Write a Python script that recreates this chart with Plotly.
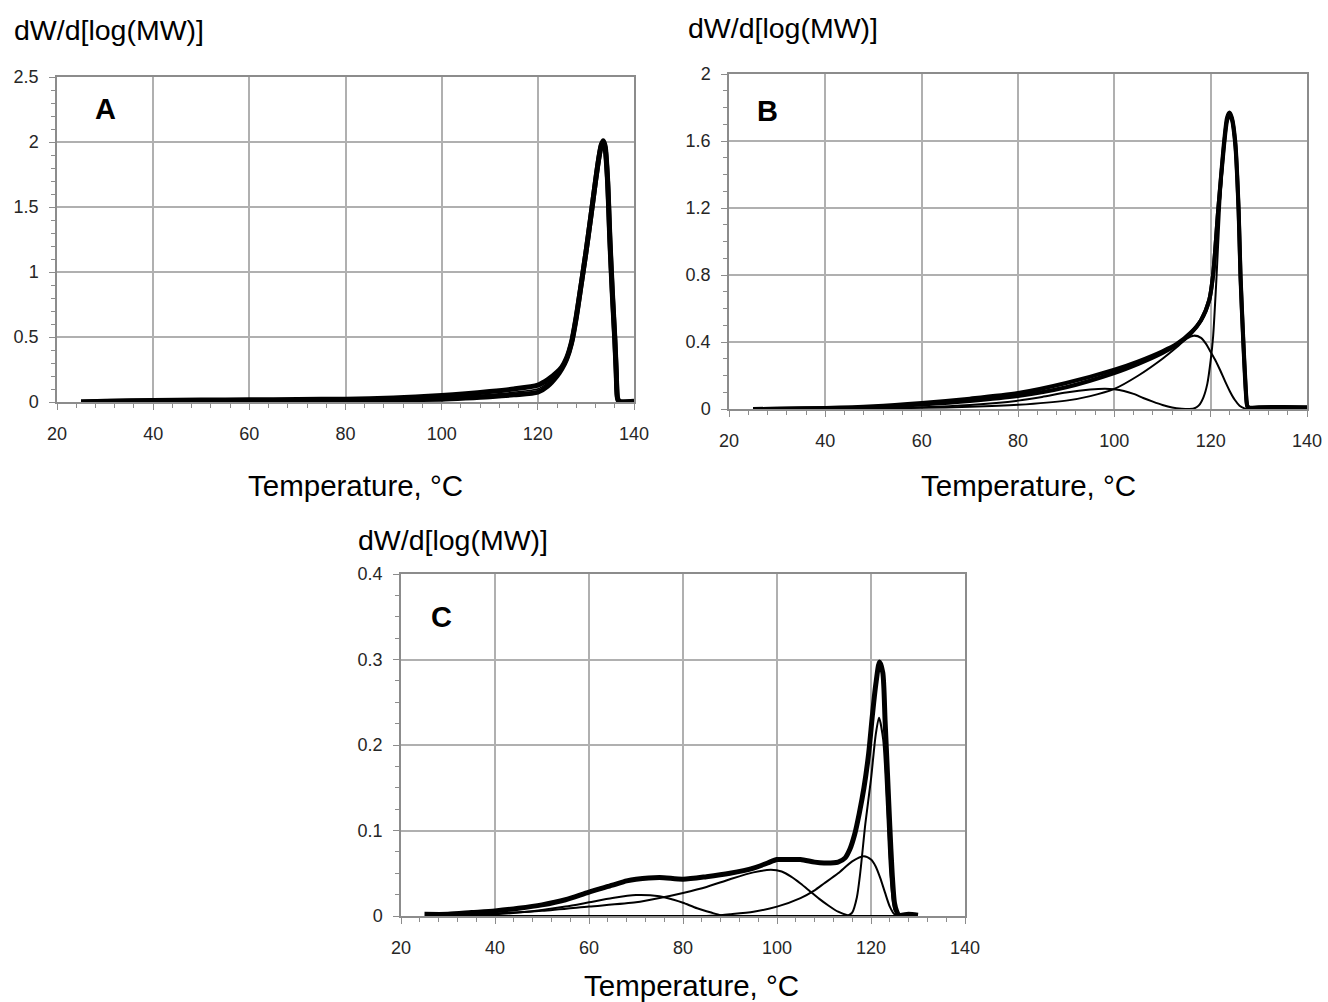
import plotly.graph_objects as go

# ---------------- Panel A data ----------------
A_T = [25, 30, 40, 50, 60, 70, 80, 90, 100, 105, 110, 115, 120, 122, 124, 125, 126, 127, 128,
       129, 130, 131, 132, 132.7, 133.2, 133.6, 134, 134.5, 135, 135.5, 136, 136.3, 136.6, 137, 140]
A_run1 = [0.0, 0.006, 0.012, 0.015, 0.017, 0.019, 0.022, 0.031, 0.05, 0.063, 0.08, 0.1, 0.13, 0.17,
          0.23, 0.27, 0.34, 0.46, 0.66, 0.9, 1.15, 1.42, 1.7, 1.88, 1.98, 2.01, 1.97, 1.72, 1.25,
          0.85, 0.5, 0.25, 0.03, 0.005, 0.005]
A_run2 = [0.0, 0.004, 0.008, 0.01, 0.011, 0.012, 0.013, 0.016, 0.022, 0.03, 0.04, 0.055, 0.075, 0.12,
          0.2, 0.255, 0.33, 0.45, 0.65, 0.9, 1.15, 1.42, 1.7, 1.88, 1.97, 2.0, 1.95, 1.7, 1.22,
          0.82, 0.48, 0.22, 0.02, 0.003, 0.003]
A_fit = [0.0, 0.005, 0.01, 0.012, 0.014, 0.015, 0.017, 0.022, 0.035, 0.045, 0.058, 0.075, 0.1, 0.145,
         0.215, 0.26, 0.335, 0.455, 0.655, 0.9, 1.15, 1.42, 1.7, 1.88, 1.975, 2.005, 1.96, 1.71, 1.23,
         0.83, 0.49, 0.23, 0.025, 0.004, 0.004]

# ---------------- Panel B data ----------------
B_T = [25, 30, 40, 50, 60, 70, 80, 90, 100, 105, 110, 113, 116, 118, 119.7, 120.5, 121.6, 122.8,
       123.4, 123.9, 124.4, 125.1, 125.8, 126.2, 126.8, 127.3, 127.6, 128, 130, 135, 140]
B_run1 = [0.0, 0.002, 0.006, 0.016, 0.036, 0.062, 0.095, 0.155, 0.235, 0.285, 0.345, 0.39, 0.46,
          0.53, 0.65, 0.8, 1.2, 1.6, 1.74, 1.77, 1.74, 1.6, 1.2, 0.8, 0.4, 0.12, 0.02, 0.008,
          0.01, 0.012, 0.01]
B_run2 = [0.0, 0.001, 0.004, 0.011, 0.027, 0.048, 0.078, 0.13, 0.215, 0.27, 0.335, 0.385, 0.455,
          0.53, 0.65, 0.8, 1.2, 1.58, 1.72, 1.76, 1.73, 1.58, 1.18, 0.78, 0.38, 0.1, 0.015, 0.005,
          0.008, 0.01, 0.008]
B_c1_T = [40, 50, 60, 70, 80, 85, 90, 95, 98, 100, 102, 104, 106, 108, 110, 112, 114, 116]
B_c1 = [0.0, 0.003, 0.01, 0.024, 0.05, 0.072, 0.098, 0.116, 0.121, 0.118, 0.108, 0.09, 0.066,
        0.044, 0.024, 0.009, 0.002, 0.0]
B_c2_T = [40, 50, 60, 70, 80, 90, 95, 100, 105, 110, 113, 115, 116.5, 118, 119, 120, 121, 122, 123,
          124, 125, 126, 127, 127.5]
B_c2 = [0.0, 0.003, 0.007, 0.013, 0.025, 0.05, 0.077, 0.12, 0.2, 0.3, 0.37, 0.42, 0.438, 0.425,
        0.39, 0.34, 0.29, 0.23, 0.165, 0.105, 0.055, 0.02, 0.004, 0.0]
B_c3_T = [115, 116.5, 117.5, 118.5, 119.3, 120, 120.5, 121.2, 121.9, 122.8, 123.4, 123.9, 124.4,
          125.1, 125.8, 126.2, 126.8, 127.3, 127.8, 128.5]
B_c3 = [0.0, 0.003, 0.02, 0.07, 0.15, 0.29, 0.43, 0.78, 1.18, 1.57, 1.72, 1.76, 1.72, 1.55, 1.18,
        0.78, 0.38, 0.12, 0.02, 0.0]

# ---------------- Panel C data ----------------
C_T = [25, 30, 35, 40, 45, 50, 55, 60, 65, 68, 70, 75, 80, 85, 90, 95, 98, 100, 102, 105, 108, 110,
       113, 114.5, 115.5, 116.5, 117.5, 118.5, 119.5, 120.3, 121, 121.8, 122.5, 123, 123.5, 124,
       124.5, 125, 125.5, 126, 128, 130]
C_exp = [0.002, 0.002, 0.004, 0.006, 0.009, 0.013, 0.019, 0.028, 0.036, 0.041, 0.043, 0.045, 0.043,
         0.046, 0.05, 0.056, 0.062, 0.066, 0.066, 0.066, 0.063, 0.062, 0.063, 0.068, 0.078, 0.095,
         0.12, 0.15, 0.19, 0.235, 0.27, 0.297, 0.285, 0.228, 0.167, 0.105, 0.05, 0.015, 0.005,
         0.001, 0.002, 0.001]
C_c1_T = [35, 40, 45, 50, 55, 60, 65, 70, 75, 78, 80, 83, 86, 88, 90]
C_c1 = [0.001, 0.002, 0.004, 0.007, 0.011, 0.016, 0.021, 0.0245, 0.023, 0.019, 0.0155, 0.009, 0.004,
        0.001, 0.0]
C_c2_T = [30, 40, 50, 60, 70, 75, 80, 85, 90, 95, 98.7, 101, 103, 105, 107, 109, 111, 113, 115, 116.5]
C_c2 = [0.001, 0.003, 0.006, 0.011, 0.016, 0.021, 0.027, 0.034, 0.043, 0.051, 0.054, 0.052, 0.046,
        0.038, 0.029, 0.02, 0.012, 0.005, 0.001, 0.0]
C_c3_T = [85, 88, 90, 95, 100, 105, 108, 110, 113, 116, 118.5, 120, 121, 122, 123, 124, 125, 126]
C_c3 = [0.0, 0.001, 0.002, 0.005, 0.011, 0.021, 0.03, 0.038, 0.05, 0.064, 0.07, 0.066, 0.058, 0.044,
        0.027, 0.011, 0.002, 0.0]
C_c4_T = [115, 116, 117, 117.7, 118.8, 120, 121, 121.7, 122.6, 123.4, 124.1, 125, 126]
C_c4 = [0.0, 0.004, 0.022, 0.05, 0.108, 0.16, 0.212, 0.232, 0.206, 0.128, 0.05, 0.007, 0.0]
C_zero_T = [28, 127]
C_zero = [0, 0]

X_TICKS = [20, 40, 60, 80, 100, 120, 140]
Y_LABEL = "dW/d[log(MW)]"
X_LABEL = "Temperature, °C"

W, H = 1328, 1002
FONT = "Liberation Sans, Arial, sans-serif"

fig = go.Figure()


def add(x, y, ax, width):
    fig.add_trace(go.Scatter(
        x=x, y=y, mode="lines", xaxis="x" + ax, yaxis="y" + ax,
        line=dict(color="black", width=width, shape="spline", smoothing=0.7),
        showlegend=False, hoverinfo="skip"))


# Panel A
add(A_T, A_run2, "", 5)
add(A_T, A_run1, "", 5)
add(A_T, A_fit, "", 1.5)
# Panel B
add(B_T, B_run2, "2", 4)
add(B_T, B_run1, "2", 4)
add(B_c1_T, B_c1, "2", 2)
add(B_c2_T, B_c2, "2", 2)
add(B_c3_T, B_c3, "2", 2)
# Panel C
add(C_zero_T, C_zero, "3", 2)
add(C_c1_T, C_c1, "3", 2)
add(C_c2_T, C_c2, "3", 2)
add(C_c3_T, C_c3, "3", 2)
add(C_c4_T, C_c4, "3", 2)
add(C_T, C_exp, "3", 5)

GRID = "#b0b0b0"
LINE = "#8c8c8c"
TICKFONT = dict(family=FONT, size=18, color="#262626")


def xaxis(domain, anchor):
    return dict(domain=domain, anchor=anchor, range=[20, 140], tickvals=X_TICKS,
                automargin=False,
                showgrid=True, gridcolor=GRID, gridwidth=1.5, showline=True, linecolor=LINE,
                linewidth=1.5, mirror=True, ticks="outside", ticklen=6, tickcolor=LINE,
                tickfont=TICKFONT, ticklabelstandoff=9, zeroline=False,
                minor=dict(ticks="outside", ticklen=4, dtick=4, tickcolor=LINE, showgrid=False))


def yaxis(domain, anchor, top, dtick, minor):
    return dict(domain=domain, anchor=anchor, range=[0, top], dtick=dtick, tick0=0,
                automargin=False,
                showgrid=True, gridcolor=GRID, gridwidth=1.5, showline=True, linecolor=LINE,
                linewidth=1.5, mirror=True, ticks="outside", ticklen=6, tickcolor=LINE,
                tickfont=TICKFONT, ticklabelstandoff=7, zeroline=False,
                minor=dict(ticks="outside", ticklen=4, dtick=minor, tickcolor=LINE, showgrid=False))


def fx(x):
    return x / W


def fy(y):
    return 1 - y / H


def px(x0, x1):
    return [fx(x0), fx(x1)]


def py(top, bottom):
    return [fy(bottom), fy(top)]


annotations = []


def text(x, y, s, size, bold=False, xanchor="left"):
    annotations.append(dict(x=fx(x), y=fy(y), xref="paper", yref="paper", text=s,
                            showarrow=False, xanchor=xanchor, yanchor="middle",
                            font=dict(family=FONT, size=size, color="black",
                                      weight="bold" if bold else "normal")))


text(12, 30, Y_LABEL, 28.5)
text(686, 28, Y_LABEL, 28.5)
text(356, 540, Y_LABEL, 28.5)
text(355, 486, X_LABEL, 29.5, xanchor="center")
text(1028, 486, X_LABEL, 29.5, xanchor="center")
text(691, 985, X_LABEL, 29.5, xanchor="center")
text(106, 109, "A", 29, bold=True, xanchor="center")
text(767, 111, "B", 29, bold=True, xanchor="center")
text(442, 617, "C", 29, bold=True, xanchor="center")

fig.update_layout(
    width=W, height=H, margin=dict(l=0, r=0, t=0, b=0, autoexpand=False),
    paper_bgcolor="white", plot_bgcolor="white",
    xaxis=xaxis(px(57, 634), "y"),
    yaxis=yaxis(py(77, 402), "x", 2.5, 0.5, 0.1),
    xaxis2=xaxis(px(729, 1307), "y2"),
    yaxis2=yaxis(py(74, 409), "x2", 2.0, 0.4, 0.1),
    xaxis3=xaxis(px(401, 965), "y3"),
    yaxis3=yaxis(py(574, 916), "x3", 0.4, 0.1, 0.025),
    annotations=annotations,
)

fig.write_html(
    "out.html",
    config={"displayModeBar": False},
    post_script="document.body.style.margin='0px';document.body.style.overflow='hidden';",
)
